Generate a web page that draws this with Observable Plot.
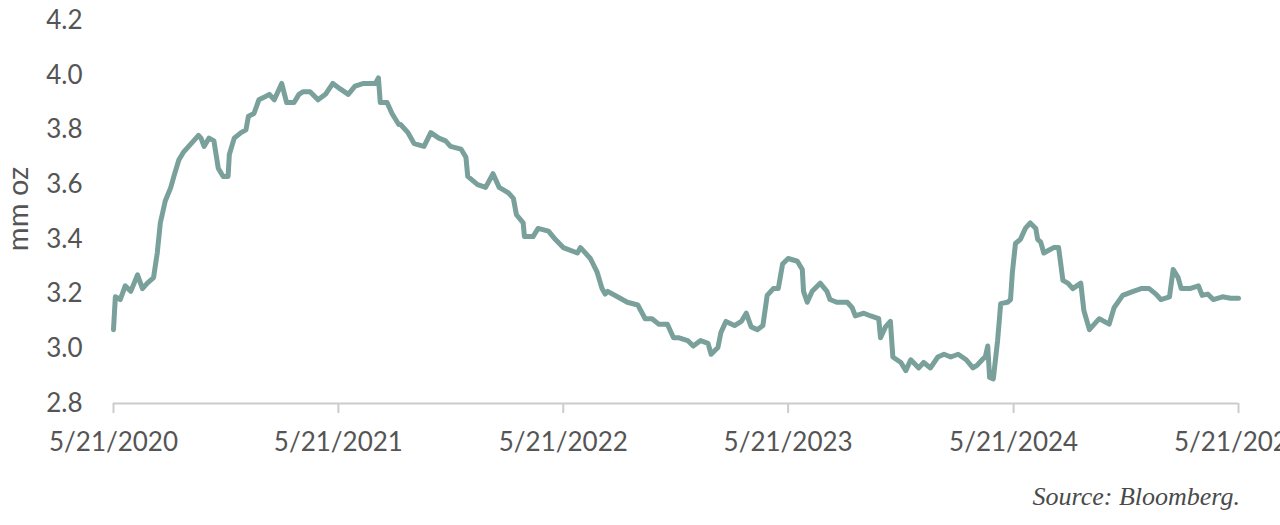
<!DOCTYPE html>
<html>
<head>
<meta charset="utf-8">
<script src="https://cdn.jsdelivr.net/npm/d3@7"></script>
<script src="https://cdn.jsdelivr.net/npm/@observablehq/plot@0.6"></script>
<style>
  html, body { margin: 0; padding: 0; background: #fff; overflow: hidden; }
  #caption { width: 1280px; box-sizing: border-box; text-align: right; padding-right: 40px;
    font-family: "Liberation Serif", "DejaVu Serif", serif; font-style: italic; font-size: 26px;
    color: #4a4a4a; margin-top: 12px; line-height: 30px; }
</style>
</head>
<body>
<div id="chart"></div>
<div id="caption">Source: Bloomberg.</div>
<script>
const dates = [
"2020-05-21","2020-05-24","2020-06-01","2020-06-09","2020-06-18","2020-06-29","2020-07-07","2020-07-15",
"2020-07-25","2020-07-31","2020-08-05","2020-08-13","2020-08-22","2020-08-27","2020-09-04","2020-09-12",
"2020-09-24","2020-10-06","2020-10-10","2020-10-15","2020-10-23","2020-10-31","2020-11-07","2020-11-15",
"2020-11-23","2020-11-25","2020-12-03","2020-12-14","2020-12-22","2020-12-26","2021-01-04","2021-01-12",
"2021-01-21","2021-01-29","2021-02-06","2021-02-18","2021-02-26","2021-03-10","2021-03-18","2021-03-25",
"2021-04-05","2021-04-18","2021-04-30","2021-05-12","2021-05-24","2021-06-06","2021-06-17","2021-07-01",
"2021-07-12","2021-07-20","2021-07-25","2021-07-28","2021-08-08","2021-08-16","2021-08-27","2021-08-30",
"2021-09-11","2021-09-21","2021-10-07","2021-10-18","2021-10-31","2021-11-11","2021-11-19","2021-12-06",
"2021-12-14","2021-12-17","2022-01-02","2022-01-15","2022-01-27","2022-02-06","2022-02-21","2022-03-01",
"2022-03-06","2022-03-17","2022-03-19","2022-04-02","2022-04-10","2022-04-27","2022-05-08","2022-05-21",
"2022-06-13","2022-06-18","2022-07-04","2022-07-15","2022-07-23","2022-07-28","2022-08-01","2022-08-17",
"2022-09-02","2022-09-19","2022-10-01","2022-10-12","2022-10-23","2022-11-06","2022-11-16","2022-11-25",
"2022-12-09","2022-12-18","2022-12-30","2023-01-11","2023-01-16","2023-01-27","2023-02-01","2023-02-09",
"2023-02-23","2023-03-06","2023-03-14","2023-03-22","2023-04-01","2023-04-10","2023-04-17","2023-04-27",
"2023-05-05","2023-05-12","2023-05-21","2023-06-05","2023-06-13","2023-06-15","2023-06-21","2023-06-29",
"2023-07-12","2023-07-23","2023-07-28","2023-08-08","2023-08-25","2023-09-02","2023-09-07","2023-09-21",
"2023-10-02","2023-10-15","2023-10-18","2023-10-26","2023-11-03","2023-11-07","2023-11-20","2023-11-28",
"2023-12-06","2023-12-19","2023-12-27","2024-01-07","2024-01-19","2024-01-29","2024-02-09","2024-02-21",
"2024-03-05","2024-03-16","2024-03-23","2024-03-31","2024-04-05","2024-04-09","2024-04-12","2024-04-18",
"2024-04-25","2024-04-30","2024-05-11","2024-05-16","2024-05-19","2024-05-24","2024-06-01","2024-06-09",
"2024-06-17","2024-06-26","2024-06-29","2024-07-04","2024-07-09","2024-07-17","2024-07-25","2024-08-02",
"2024-08-09","2024-08-17","2024-08-25","2024-09-07","2024-09-12","2024-09-21","2024-09-29","2024-10-07",
"2024-10-15","2024-10-23","2024-10-31","2024-11-14","2024-12-01","2024-12-14","2024-12-27","2025-01-07",
"2025-01-15","2025-01-29","2025-02-04","2025-02-12","2025-02-17","2025-03-03","2025-03-17","2025-03-23",
"2025-04-01","2025-04-10","2025-04-25","2025-05-08","2025-05-21"
];
const values = [
3.07,3.19,3.18,3.23,3.21,3.27,3.22,3.24,
3.26,3.35,3.46,3.54,3.59,3.63,3.69,3.72,
3.75,3.78,3.77,3.74,3.77,3.76,3.66,3.63,
3.63,3.71,3.77,3.79,3.80,3.85,3.86,3.91,
3.92,3.93,3.91,3.97,3.90,3.90,3.93,3.94,
3.94,3.91,3.93,3.97,3.95,3.93,3.96,3.97,
3.97,3.97,3.99,3.90,3.90,3.86,3.82,3.82,
3.79,3.75,3.74,3.79,3.77,3.76,3.74,3.73,
3.70,3.63,3.60,3.59,3.64,3.59,3.57,3.55,
3.49,3.46,3.41,3.41,3.44,3.43,3.40,3.37,
3.35,3.37,3.33,3.28,3.22,3.20,3.21,3.19,
3.17,3.16,3.11,3.11,3.09,3.09,3.04,3.04,
3.03,3.01,3.03,3.02,2.98,3.005,3.06,3.10,
3.085,3.10,3.13,3.08,3.07,3.085,3.195,3.22,
3.22,3.31,3.33,3.32,3.29,3.21,3.17,3.21,
3.24,3.21,3.18,3.17,3.17,3.15,3.12,3.13,
3.12,3.11,3.04,3.08,3.10,2.97,2.95,2.92,
2.96,2.93,2.95,2.93,2.97,2.98,2.97,2.98,
2.96,2.93,2.94,2.96,2.97,3.01,2.895,2.89,
3.03,3.165,3.17,3.18,3.28,3.385,3.40,3.44,
3.46,3.44,3.40,3.39,3.35,3.36,3.37,3.37,
3.25,3.24,3.22,3.24,3.14,3.07,3.09,3.11,
3.10,3.09,3.15,3.195,3.21,3.22,3.22,3.20,
3.18,3.19,3.29,3.26,3.22,3.22,3.23,3.195,
3.20,3.18,3.19,3.185,3.185
];
const tickDates = ["2020-05-21","2021-05-21","2022-05-21","2023-05-21","2024-05-21","2025-05-21"];
const tickLabels = ["5/21/2020","5/21/2021","5/21/2022","5/21/2023","5/21/2024","5/21/2025"];
const yTicks = [2.8, 3.0, 3.2, 3.4, 3.6, 3.8, 4.0, 4.2];
const yLabel = "mm oz";

const data = dates.map((d, i) => ({date: new Date(d + "T00:00:00Z"), value: values[i]}));
const xt = tickDates.map(d => new Date(d + "T00:00:00Z"));

const chart = Plot.plot({
  width: 1280,
  height: 470,
  marginLeft: 113,
  marginRight: 42,
  marginTop: 20,
  marginBottom: 67,
  style: {fontFamily: "Lato, 'Noto Sans', sans-serif", fontSize: "26px", color: "#555", background: "#fff", overflow: "visible"},
  x: {type: "utc", domain: [xt[0], xt[xt.length - 1]]},
  y: {domain: [2.8, 4.2]},
  marks: [
    Plot.axisY({ticks: yTicks, tickSize: 0, tickPadding: 31, tickFormat: d => d.toFixed(1), fill: "#555",
      fontSize: 26, label: null}),
    Plot.axisX({ticks: xt, tickSize: 10, tickPadding: 19, stroke: "#ccc", strokeWidth: 2, fill: "#555",
      fontSize: 26, tickFormat: (d) => tickLabels[xt.findIndex(t => +t === +d)], label: null}),
    Plot.ruleY([2.8], {stroke: "#ccc", strokeWidth: 2}),
    Plot.text([yLabel], {frameAnchor: "left", text: d => d, rotate: -90, dx: -95, dy: -3,
      fontSize: 29, fill: "#555", textAnchor: "middle", lineAnchor: "middle"}),
    Plot.line(data, {x: "date", y: "value", stroke: "#79a09a", strokeWidth: 5, strokeLinejoin: "round", strokeLinecap: "round"})
  ]
});
document.getElementById("chart").appendChild(chart);
</script>
</body>
</html>
